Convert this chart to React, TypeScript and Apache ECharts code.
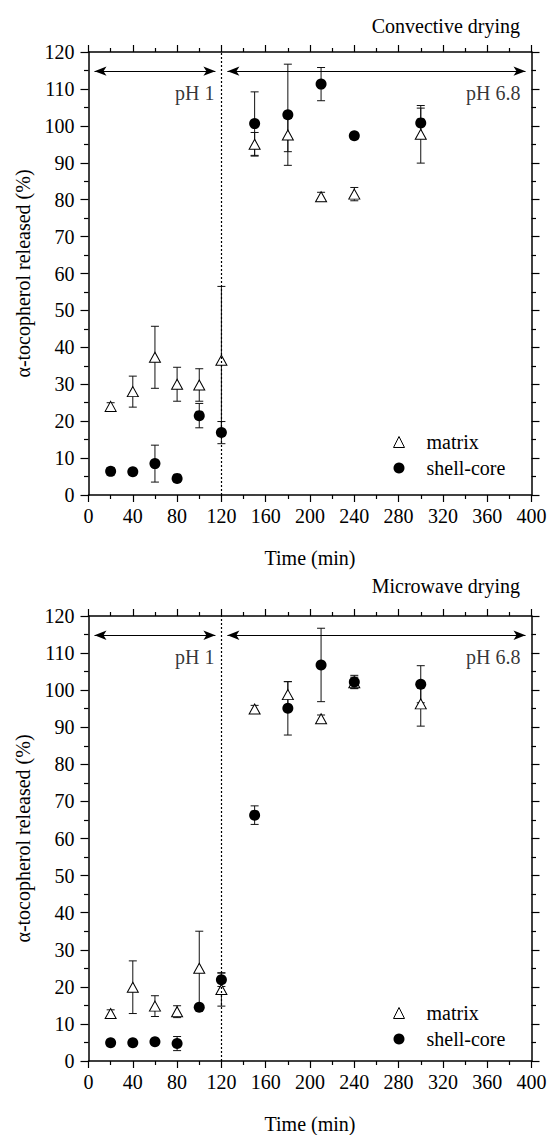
import React, { useEffect, useRef } from "react";
import * as echarts from "echarts";

// ---------- data ----------
const TIMES = [20, 40, 60, 80, 100, 120, 150, 180, 210, 240, 300];

// Convective drying
const CONV_MATRIX = [24, 28, 37.3, 30, 29.8, 36.5, 95, 97.5, 80.8, 81.5, 97.7];
const CONV_MATRIX_ERR = [1, 4.2, 8.4, 4.6, 4.4, 20, 3.2, 4.5, 1.2, 1.8, 7.8];
const CONV_SHELL = [6.4, 6.3, 8.5, 4.5, 21.5, 16.9, 100.6, 103, 111.3, 97.3, 100.8];
const CONV_SHELL_ERR = [1, 0.8, 5, 0.5, 3.3, 3, 8.6, 13.7, 4.5, 0.8, 4];

// Microwave drying
const MW_MATRIX = [12.8, 19.9, 14.8, 13.3, 25, 19.3, 94.9, 98.8, 92.3, 102, 96.3];
const MW_MATRIX_ERR = [1, 7.1, 2.8, 1.6, 10, 4.5, 1, 3.5, 1, 1.5, 6];
const MW_SHELL = [4.9, 4.9, 5.2, 4.7, 14.5, 21.9, 66.3, 95.1, 106.8, 102.2, 101.6];
const MW_SHELL_ERR = [0.8, 0.8, 0.5, 1.9, 0.6, 1.8, 2.5, 7.2, 9.9, 1.8, 5];

const PANEL_TITLES = ["Convective drying", "Microwave drying"];
const PH_BOUNDARY = 120;
const ARROW_LEVEL = 114.8;
const PH_LABEL_LEVEL = 109;
const PH_LABELS = ["pH 1", "pH 6.8"];
const SERIES_NAMES = ["matrix", "shell-core"];
const X_MIN = 0, X_MAX = 400, X_STEP = 40;
const Y_MIN = 0, Y_MAX = 120, Y_STEP = 10;

// ---------- layout ----------
const W = 550, H = 1135;
const FONT = "Liberation Serif";
const GRID_LEFT = 88.5;
const GRID_W = 443;
const PANELS = [
  { top: 52, height: 443, titleTop: 16, legendTop: 432 },
  { top: 616, height: 450.5, titleTop: 576, legendTop: 1003 },
];

const textBase = { fontFamily: FONT, fontSize: 20, color: "#000" };

function errRender(params: any, api: any) {
  const x = api.value(0), y = api.value(1), e = api.value(2);
  const t = api.coord([x, y + e]);
  const b = api.coord([x, y - e]);
  const cap = 4;
  const st = { stroke: "#111", lineWidth: 1 };
  return {
    type: "group",
    children: [
      { type: "line", shape: { x1: t[0], y1: t[1], x2: b[0], y2: b[1] }, style: st },
      { type: "line", shape: { x1: t[0] - cap, y1: t[1], x2: t[0] + cap, y2: t[1] }, style: st },
      { type: "line", shape: { x1: b[0] - cap, y1: b[1], x2: b[0] + cap, y2: b[1] }, style: st },
    ],
  };
}

function makeAxes(i: number) {
  const xCommon = {
    type: "value",
    gridIndex: i,
    min: X_MIN,
    max: X_MAX,
    interval: X_STEP,
    splitLine: { show: false },
    axisLine: { show: true, onZero: false, lineStyle: { color: "#000", width: 1.5 } },
    axisTick: { show: true, inside: false, length: 7, lineStyle: { color: "#000", width: 1.2 } },
    minorTick: { show: true, splitNumber: 2, length: 4, lineStyle: { color: "#000", width: 1.2 } },
    minorSplitLine: { show: false },
  };
  const yCommon = {
    type: "value",
    gridIndex: i,
    min: Y_MIN,
    max: Y_MAX,
    interval: Y_STEP,
    splitLine: { show: false },
    axisLine: { show: true, onZero: false, lineStyle: { color: "#000", width: 1.5 } },
    axisTick: { show: true, inside: false, length: 8, lineStyle: { color: "#000", width: 1.2 } },
    minorTick: { show: true, splitNumber: 2, length: 4.5, lineStyle: { color: "#000", width: 1.2 } },
    minorSplitLine: { show: false },
  };
  const xAxes = [
    {
      ...xCommon,
      position: "bottom",
      name: "Time (min)",
      nameLocation: "middle",
      nameGap: 53,
      nameTextStyle: textBase,
      axisLabel: { ...textBase, margin: 11 },
    },
    { ...xCommon, position: "top", axisLabel: { show: false } },
  ];
  const yAxes = [
    {
      ...yCommon,
      position: "left",
      name: "\u03b1-tocopherol released (%)",
      nameLocation: "middle",
      nameGap: 56,
      nameRotate: 90,
      nameTextStyle: textBase,
      axisLabel: { ...textBase, margin: 14 },
    },
    { ...yCommon, position: "right", axisLabel: { show: false } },
  ];
  return { xAxes, yAxes };
}

function makeSeries(i: number, matrix: number[], matrixErr: number[], shell: number[], shellErr: number[]) {
  const xi = i * 2, yi = i * 2;
  const arrowInset = (6 / GRID_W) * (X_MAX - X_MIN);
  return [
    {
      type: "custom",
      name: "matrix-err",
      xAxisIndex: xi,
      yAxisIndex: yi,
      renderItem: errRender,
      data: TIMES.map((t, k) => [t, matrix[k], matrixErr[k]]),
      encode: { x: 0, y: 1 },
      z: 2,
      silent: true,
    },
    {
      type: "custom",
      name: "shell-err",
      xAxisIndex: xi,
      yAxisIndex: yi,
      renderItem: errRender,
      data: TIMES.map((t, k) => [t, shell[k], shellErr[k]]),
      encode: { x: 0, y: 1 },
      z: 2,
      silent: true,
    },
    {
      type: "scatter",
      name: SERIES_NAMES[0],
      xAxisIndex: xi,
      yAxisIndex: yi,
      symbol: "triangle",
      symbolSize: [11, 10],
      itemStyle: { color: "#fff", borderColor: "#000", borderWidth: 1, opacity: 1 },
      data: TIMES.map((t, k) => [t, matrix[k]]),
      z: 3,
      markLine: {
        silent: true,
        symbol: ["none", "none"],
        label: { show: false },
        lineStyle: { color: "#000", width: 1.2, type: [2, 2] },
        data: [{ xAxis: PH_BOUNDARY }],
      },
    },
    {
      type: "scatter",
      name: SERIES_NAMES[1],
      xAxisIndex: xi,
      yAxisIndex: yi,
      symbol: "circle",
      symbolSize: 11,
      itemStyle: { color: "#000", opacity: 1 },
      data: TIMES.map((t, k) => [t, shell[k]]),
      z: 4,
      markLine: {
        silent: true,
        symbol: ["arrow", "arrow"],
        symbolSize: [7, 12],
        label: { show: false },
        lineStyle: { color: "#000", width: 1.2, type: "solid" },
        data: [
          [{ coord: [X_MIN + arrowInset, ARROW_LEVEL] }, { coord: [PH_BOUNDARY - arrowInset, ARROW_LEVEL] }],
          [{ coord: [PH_BOUNDARY + arrowInset, ARROW_LEVEL] }, { coord: [X_MAX - arrowInset, ARROW_LEVEL] }],
        ],
      },
    },
    {
      type: "scatter",
      name: "ph-labels",
      xAxisIndex: xi,
      yAxisIndex: yi,
      symbolSize: 0,
      silent: true,
      z: 5,
      data: [
        { value: [PH_BOUNDARY, PH_LABEL_LEVEL], label: { formatter: PH_LABELS[0], distance: 7 } },
        { value: [X_MAX, PH_LABEL_LEVEL], label: { formatter: PH_LABELS[1], distance: 11 } },
      ],
      label: { show: true, position: "left", ...textBase },
    },
  ];
}

export default function App() {
  const ref = useRef<HTMLDivElement>(null);
  useEffect(() => {
    if (!ref.current) return;
    const chart = echarts.init(ref.current, undefined, { renderer: "svg" });
    const a0 = makeAxes(0);
    const a1 = makeAxes(1);
    const option: any = {
      animation: false,
      backgroundColor: "#fff",
      textStyle: { fontFamily: FONT },
      title: PANELS.map((p, i) => ({
        text: PANEL_TITLES[i],
        right: W - 520,
        top: p.titleTop,
        padding: 0,
        textStyle: { ...textBase, fontWeight: "normal" },
      })),
      legend: PANELS.map((p) => ({
        data: SERIES_NAMES,
        orient: "vertical",
        left: 393,
        top: p.legendTop,
        padding: 0,
        itemWidth: 11,
        itemHeight: 11,
        itemGap: 6,
        selectedMode: false,
        itemStyle: { borderWidth: 1 },
        textStyle: { ...textBase, padding: [0, 0, 0, 17] },
      })),
      grid: PANELS.map((p) => ({
        left: GRID_LEFT,
        top: p.top,
        width: GRID_W,
        height: p.height,
        containLabel: false,
      })),
      xAxis: [...a0.xAxes, ...a1.xAxes],
      yAxis: [...a0.yAxes, ...a1.yAxes],
      series: [
        ...makeSeries(0, CONV_MATRIX, CONV_MATRIX_ERR, CONV_SHELL, CONV_SHELL_ERR),
        ...makeSeries(1, MW_MATRIX, MW_MATRIX_ERR, MW_SHELL, MW_SHELL_ERR),
      ],
    };
    chart.setOption(option);
    return () => chart.dispose();
  }, []);
  return (
    <div style={{ position: "absolute", left: 0, top: 0, width: W, height: H, background: "#fff" }}>
      <div ref={ref} style={{ width: W, height: H }} />
    </div>
  );
}
